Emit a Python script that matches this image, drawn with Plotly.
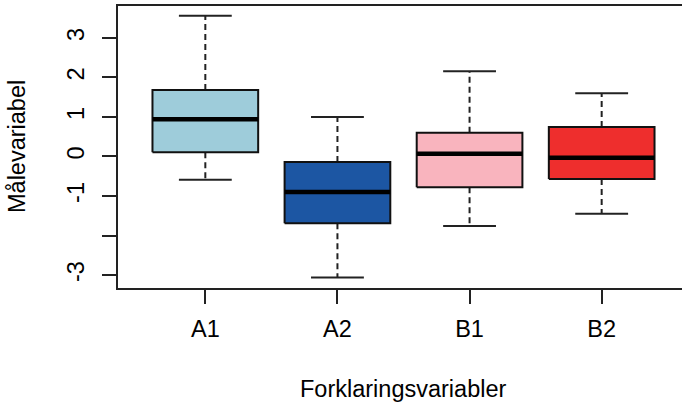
import plotly.graph_objects as go

categories = ["A1", "A2", "B1", "B2"]
lower_whisker = [-0.59, -3.06, -1.76, -1.45]
q1 = [0.11, -1.69, -0.78, -0.57]
median = [0.94, -0.90, 0.07, -0.03]
q3 = [1.68, -0.14, 0.60, 0.745]
upper_whisker = [3.56, 1.00, 2.16, 1.60]
colors = ["#9ECCDA", "#1C56A3", "#F9B4BE", "#EE2E2D"]

y_tickvals = [-3, -2, -1, 0, 1, 2, 3]
y_ticktext = ["-3", "", "-1", "0", "1", "2", "3"]

FONT = "Liberation Sans, Arial, sans-serif"
FS = 23.5
LINE = "#222222"
half = 0.4
cap = 0.2

fig = go.Figure()
for i, name in enumerate(categories):
    x = i + 1
    # whiskers (dashed)
    fig.add_trace(go.Scatter(
        x=[x, x, None, x, x],
        y=[q3[i], upper_whisker[i], None, q1[i], lower_whisker[i]],
        mode="lines", line=dict(color=LINE, width=2, dash="6px,4px"),
        hoverinfo="skip", showlegend=False))
    # staples
    fig.add_trace(go.Scatter(
        x=[x - cap, x + cap, None, x - cap, x + cap],
        y=[upper_whisker[i], upper_whisker[i], None, lower_whisker[i], lower_whisker[i]],
        mode="lines", line=dict(color=LINE, width=2),
        hoverinfo="skip", showlegend=False))
    # box
    fig.add_trace(go.Scatter(
        x=[x - half, x + half, x + half, x - half, x - half],
        y=[q1[i], q1[i], q3[i], q3[i], q1[i]],
        mode="lines", fill="toself", fillcolor=colors[i],
        line=dict(color="#111111", width=2),
        name=name, showlegend=False))
    # median
    fig.add_trace(go.Scatter(
        x=[x - half, x + half], y=[median[i], median[i]],
        mode="lines", line=dict(color="#000000", width=4.5),
        hoverinfo="skip", showlegend=False))

fig.update_layout(
    width=682, height=404,
    margin=dict(l=118, r=0, t=6, b=116),
    paper_bgcolor="white", plot_bgcolor="white",
    font=dict(family=FONT, size=FS, color="#000000"),
    xaxis=dict(
        range=[0.339, 4.608], tickmode="array", tickvals=[1, 2, 3, 4],
        ticktext=categories, showgrid=False, zeroline=False,
        showline=True, linecolor=LINE, linewidth=2, mirror=True,
        ticks="outside", ticklen=14, tickwidth=2, tickcolor=LINE,
        tickfont=dict(size=FS, family=FONT), ticklabelstandoff=5,
    ),
    yaxis=dict(
        range=[-3.328, 3.808], tickmode="array", tickvals=y_tickvals,
        ticktext=y_ticktext, showgrid=False, zeroline=False,
        showline=True, linecolor=LINE, linewidth=2, mirror=False,
        ticks="outside", ticklen=14, tickwidth=2, tickcolor=LINE,
        tickangle=-90, tickfont=dict(size=FS, family=FONT), ticklabelstandoff=9,
    ),
    annotations=[
        dict(text="Forklaringsvariabler", xref="x", yref="paper", x=2.5, y=0,
             yanchor="middle", xanchor="center", yshift=-101, showarrow=False,
             font=dict(size=FS, family=FONT)),
        dict(text="Målevariabel", xref="paper", yref="y", x=0, y=0.24,
             xanchor="center", yanchor="middle", xshift=-101, textangle=-90,
             showarrow=False, font=dict(size=FS, family=FONT)),
    ],
)

fig.write_html("out.html")
